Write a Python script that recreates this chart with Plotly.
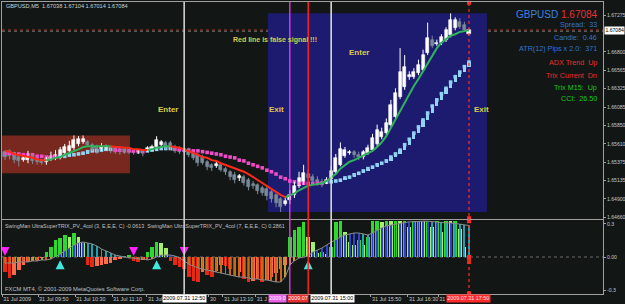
import plotly.graph_objects as go

# ---------------- data ----------------
bars = list(range(102))

opens = [1.6551,1.6552,1.6548,1.6544,1.6540,1.6540,1.6544,1.6541,1.6539,1.6538,
         1.6541,1.6543,1.6544,1.6549,1.6552,1.6556,1.6561,1.6563,1.6563,1.6560,
         1.6557,1.6554,1.6554,1.6556,1.6556,1.6553,1.6554,1.6553,1.6552,1.6551,
         1.6552,1.6552,1.6553,1.6557,1.6560,1.6562,1.6562,1.6557,1.6556,1.6553,
         1.6553,1.6552,1.6547,1.6544,1.6538,1.6534,1.6532,1.6534,1.6529,1.6525,
         1.6521,1.6517,1.6518,1.6514,1.6509,1.6508,1.6504,1.6503,1.6499,1.6495,
         1.6490,1.6483,1.6488,1.6495,1.6507,1.6512,1.6522,1.6518,1.6514,1.6512,
         1.6512,1.6516,1.6525,1.6534,1.6545,1.6549,1.6551,1.6547,1.6544,1.6549,
         1.6553,1.6561,1.6570,1.6575,1.6586,1.6596,1.6622,1.6635,1.6648,1.6648,
         1.6653,1.6657,1.6679,1.6696,1.6690,1.6692,1.6696,1.6702,1.6711,1.6719,
         1.6715,1.67038]
closes = [1.6544,1.6545,1.6540,1.6539,1.6543,1.6544,1.6539,1.6538,1.6536,1.6541,
          1.6544,1.6547,1.6553,1.6557,1.6558,1.6566,1.6567,1.6567,1.6560,1.6554,
          1.6551,1.6557,1.6557,1.6552,1.6551,1.6551,1.6551,1.6551,1.6549,1.6553,
          1.6549,1.6556,1.6557,1.6566,1.6563,1.6557,1.6554,1.6552,1.6551,1.6551,
          1.6547,1.6543,1.6536,1.6536,1.6531,1.6530,1.6535,1.6527,1.6525,1.6518,
          1.6514,1.6519,1.6510,1.6505,1.6507,1.6500,1.6497,1.6494,1.6490,1.6485,
          1.6479,1.6487,1.6495,1.6507,1.6517,1.6523,1.6517,1.6513,1.6512,1.6509,
          1.6514,1.6526,1.6543,1.6554,1.6553,1.6551,1.6547,1.6544,1.6551,1.6556,
          1.6569,1.6579,1.6576,1.6588,1.6611,1.6627,1.6654,1.6661,1.6650,1.6654,
          1.6663,1.6676,1.6698,1.6688,1.6692,1.6699,1.6708,1.6721,1.6721,1.6712,
          1.6708,1.67084]
highs = [1.6553,1.6554,1.6551,1.6547,1.6545,1.6552,1.6547,1.6544,1.6541,1.6544,
         1.6551,1.6553,1.6557,1.6561,1.6565,1.6572,1.6571,1.6572,1.6566,1.6562,
         1.6560,1.6562,1.6560,1.6558,1.6558,1.6556,1.6557,1.6556,1.6554,1.6554,
         1.6554,1.6558,1.6560,1.6571,1.6566,1.6565,1.6565,1.6560,1.6558,1.6556,
         1.6556,1.6553,1.6549,1.6547,1.6540,1.6536,1.6538,1.6536,1.6531,1.6527,
         1.6525,1.6522,1.6521,1.6517,1.6513,1.6510,1.6507,1.6507,1.6501,1.6497,
         1.6492,1.6491,1.6501,1.6512,1.6525,1.6534,1.6527,1.6522,1.6519,1.6516,
         1.6518,1.6532,1.6548,1.6563,1.6557,1.6553,1.6553,1.6551,1.6553,1.6560,
         1.6574,1.6586,1.6582,1.6594,1.6618,1.6633,1.6685,1.6676,1.6655,1.6659,
         1.6670,1.6683,1.6718,1.6701,1.6696,1.6703,1.6712,1.6730,1.6725,1.6724,
         1.6719,1.67104]
lows = [1.6540,1.6541,1.6536,1.6532,1.6538,1.6536,1.6535,1.6534,1.6534,1.6534,
        1.6539,1.6540,1.6541,1.6547,1.6549,1.6553,1.6558,1.6561,1.6557,1.6552,
        1.6548,1.6552,1.6553,1.6549,1.6548,1.6547,1.6548,1.6548,1.6547,1.6548,
        1.6545,1.6551,1.6552,1.6554,1.6558,1.6554,1.6553,1.6549,1.6548,1.6549,
        1.6544,1.6540,1.6532,1.6534,1.6527,1.6526,1.6530,1.6525,1.6521,1.6514,
        1.6510,1.6513,1.6507,1.6501,1.6503,1.6496,1.6494,1.6488,1.6485,1.6479,
        1.6473,1.6481,1.6483,1.6491,1.6504,1.6508,1.6513,1.6509,1.6507,1.6505,
        1.6509,1.6513,1.6522,1.6532,1.6543,1.6547,1.6543,1.6540,1.6541,1.6547,
        1.6551,1.6558,1.6567,1.6572,1.6583,1.6593,1.6619,1.6631,1.6644,1.6645,
        1.6650,1.6654,1.6676,1.6685,1.6688,1.6689,1.6693,1.6699,1.6708,1.6710,
        1.6706,1.67014]

fast_ma = [1.6552,1.6551,1.6548,1.6547,1.6545,1.6544,1.6543,1.6541,1.6540,1.6540,
           1.6541,1.6543,1.6544,1.6547,1.6549,1.6552,1.6554,1.6557,1.6558,1.6558,
           1.6558,1.6558,1.6558,1.6558,1.6557,1.6557,1.6556,1.6556,1.6554,1.6554,
           1.6553,1.6553,1.6554,1.6556,1.6557,1.6558,1.6558,1.6557,1.6556,1.6554,
           1.6552,1.6549,1.6547,1.6544,1.6543,1.6540,1.6539,1.6536,1.6534,1.6531,
           1.6529,1.6527,1.6525,1.6522,1.6518,1.6514,1.6510,1.6507,1.6503,1.6499,
           1.6495,1.6492,1.6494,1.6497,1.6501,1.6504,1.6507,1.6508,1.6509,1.6510,
           1.6513,1.6517,1.6522,1.6529,1.6534,1.6538,1.6540,1.6543,1.6545,1.6548,
           1.6552,1.6557,1.6563,1.6571,1.6582,1.6593,1.6605,1.6616,1.6626,1.6636,
           1.6645,1.6655,1.6666,1.6675,1.6685,1.6692,1.6697,1.6701,1.6703,1.6706,
           1.6707,1.6708]
slow_ma = [1.6549,1.6549,1.6548,1.6548,1.6547,1.6547,1.6547,1.6545,1.6545,1.6544,
           1.6544,1.6544,1.6545,1.6545,1.6547,1.6547,1.6548,1.6549,1.6551,1.6552,
           1.6552,1.6553,1.6554,1.6554,1.6553,1.6553,1.6552,1.6552,1.6552,1.6551,
           1.6551,1.6552,1.6553,1.6554,1.6555,1.6555,1.6555,1.6554,1.6554,1.6553,
           1.6553,1.6552,1.6552,1.6551,1.6550,1.6549,1.6548,1.6547,1.6545,1.6544,
           1.6543,1.6540,1.6539,1.6536,1.6534,1.6532,1.6530,1.6527,1.6525,1.6522,
           1.6518,1.6516,1.6513,1.6512,1.6510,1.6510,1.6510,1.6510,1.6510,1.6510,
           1.6512,1.6512,1.6513,1.6514,1.6517,1.6518,1.6521,1.6523,1.6526,1.6529,
           1.6531,1.6534,1.6536,1.6539,1.6544,1.6548,1.6553,1.6560,1.6567,1.6575,
           1.6583,1.6592,1.6601,1.6610,1.6618,1.6626,1.6633,1.6641,1.6648,1.6654,
           1.6661,1.6667]

trix_fast = [-0.136,-0.191,-0.164,-0.118,-0.073,-0.045,-0.036,-0.027,-0.009,0.045,
             0.091,0.155,0.173,0.200,0.182,0.218,0.182,0.127,-0.073,-0.091,
             -0.082,-0.073,-0.064,-0.055,-0.027,-0.018,0.009,0.018,-0.036,-0.045,
             -0.027,0.045,0.091,0.136,0.127,0.082,-0.036,-0.073,-0.091,-0.109,
             -0.182,-0.218,-0.227,-0.136,-0.164,-0.182,-0.127,-0.073,-0.082,-0.109,
             -0.164,-0.136,-0.200,-0.227,-0.218,-0.200,-0.227,-0.209,-0.182,-0.145,
             -0.109,-0.073,0.182,0.245,0.273,0.318,0.182,0.136,0.036,0.045,
             0.027,0.091,0.318,0.327,0.227,0.136,0.109,0.155,0.109,0.182,
             0.327,0.330,0.320,0.330,0.327,0.330,0.325,0.330,0.273,0.327,
             0.330,0.327,0.330,0.273,0.327,0.227,0.330,0.327,0.330,0.255,
             0.091,-0.0613]
trix_slow = [-0.055,-0.055,-0.055,-0.045,-0.045,-0.045,-0.036,-0.036,-0.027,-0.027,
             -0.018,0.002,0.027,0.055,0.082,0.109,0.127,0.136,0.127,0.118,
             0.100,0.073,0.055,0.036,0.018,0.009,0.002,-0.009,-0.009,-0.018,
             -0.018,-0.027,-0.018,0.002,0.018,0.018,0.018,0.009,-0.009,-0.036,
             -0.064,-0.082,-0.100,-0.109,-0.118,-0.127,-0.136,-0.145,-0.155,-0.164,
             -0.173,-0.182,-0.182,-0.191,-0.200,-0.200,-0.209,-0.209,-0.218,-0.227,
             -0.227,-0.182,-0.073,-0.036,-0.009,0.003,0.009,0.045,0.064,0.082,
             0.109,0.136,0.155,0.182,0.200,0.209,0.218,0.218,0.209,0.200,
             0.218,0.245,0.264,0.282,0.290,0.300,0.310,0.315,0.320,0.320,
             0.325,0.325,0.325,0.320,0.320,0.315,0.310,0.310,0.305,0.300,
             0.295,0.2861]

sell_arrow_bars = [0, 28, 39]
buy_arrow_bars = [12, 33, 66]

# time-axis labels (only the parts left visible by the object labels)
time_tick_pos = [-0.6, 7.2, 15.25, 23.3, 30.9, 44.4, 47.45, 54.6, 79.65, 87.7, 94.3]
time_tick_text = ["31 Jul 2009", "31 Jul 09:50", "31 Jul 10:30", "31 Jul 11:10", "31 Jul",
                  "30", "31 Jul 13:10", "31 J", "31 Jul 15:50", "31 Jul 16:30", "31"]
price_ticks = [1.67275, 1.66800, 1.66565, 1.66325, 1.66085, 1.65850, 1.65610,
               1.65375, 1.65135, 1.64900, 1.64660]
trix_ticks = [0.3, 0.0, -0.3]
trix_tick_text = ["0.3", "0.00", "-0.3"]

current_price = 1.67084
header_text = "GBPUSD,M5  1.67038 1.67104 1.67014 1.67084"

# vertical line objects: (bar, colour, dash, width)
vlines = [(39, "#d0d0d0", "solid", 1.6), (62, "#ff40ff", "solid", 1.2),
          (66, "#ff2020", "solid", 1.5), (71, "#d8d8d8", "solid", 1.6),
          (101, "#ff2a2a", "dot", 1.2)]
# their time-scale labels: (text, centre bar, bg, fg)
vline_labels = [("2009.0", 59.35, "#e860e8", "#ffffff"),
                ("2009.07", 63.75, "#e83030", "#ffffff"),
                ("2009.07.31 12:50", 39.0, "#ffffff", "#000000"),
                ("2009.07.31 15:00", 71.3, "#ffffff", "#000000"),
                ("2009.07.31 17:50", 101.0, "#ff2a2a", "#ffe0e0")]

# ---------------- style ----------------
BG = "#121615"
BORDER = "#a0a0a0"
AX_TXT = "#c8c8c8"
FONT = "Liberation Sans"
TICK_SIZE = 5.1

X_RANGE = [-0.653, 130.17]
Y_RANGE = [1.64638, 1.67447]
T_RANGE = [-0.336, 0.336]

fig = go.Figure()

def step_colors(vals, up, down):
    cols = []
    cur = down
    for i in range(1, len(vals)):
        if vals[i] > vals[i - 1]:
            cur = up
        elif vals[i] < vals[i - 1]:
            cur = down
        cols.append(cur)
    return cols

# slow MA (pink when falling, light blue when rising)
PINK = "#f04cc8"
LBLUE = "#92d2f2"
slow_cols = step_colors(slow_ma, LBLUE, PINK)
slow_pt_cols = [slow_cols[0]] + slow_cols
rise_idx = [i for i in range(1, len(bars)) if slow_ma[i] > slow_ma[i - 1]]
fig.add_trace(go.Bar(x=[bars[i] for i in rise_idx],
                     y=[slow_ma[i] - slow_ma[i - 1] for i in rise_idx],
                     base=[slow_ma[i - 1] for i in rise_idx], width=0.7,
                     marker=dict(color=LBLUE, line=dict(width=0)),
                     xaxis="x", yaxis="y", hoverinfo="skip"))
fig.add_trace(go.Scatter(x=bars, y=slow_ma, mode="markers",
                         marker=dict(symbol="square", size=3.6, color=slow_pt_cols,
                                     line=dict(width=0)),
                         xaxis="x", yaxis="y", hoverinfo="skip"))

# candles: wicks + bodies
BULL = "#ffffff"
BEAR = "#7b8a98"
for is_bull, col in ((True, BULL), (False, BEAR)):
    wx, wy = [], []
    for i in bars:
        if (closes[i] >= opens[i]) == is_bull:
            wx += [bars[i], bars[i], None]
            wy += [lows[i], highs[i], None]
    fig.add_trace(go.Scatter(x=wx, y=wy, mode="lines", line=dict(color=col, width=1),
                             xaxis="x", yaxis="y", hoverinfo="skip"))
body_cols = [BULL if c >= o else BEAR for o, c in zip(opens, closes)]
fig.add_trace(go.Bar(x=bars, y=[abs(c - o) for o, c in zip(opens, closes)],
                     base=[min(o, c) for o, c in zip(opens, closes)], width=0.66,
                     marker=dict(color=body_cols, line=dict(color=body_cols, width=0.6)),
                     xaxis="x", yaxis="y", hoverinfo="skip"))

# fast MA: red falling / green rising
fast_cols = step_colors(fast_ma, "#2fb45c", "#ff2a18")
start = 0
for i in range(1, len(fast_cols) + 1):
    if i == len(fast_cols) or fast_cols[i] != fast_cols[start]:
        fig.add_trace(go.Scatter(x=bars[start:i + 1], y=fast_ma[start:i + 1], mode="lines",
                                 line=dict(color=fast_cols[start], width=2),
                                 xaxis="x", yaxis="y", hoverinfo="skip"))
        start = i

# ---------------- TRIX subplot ----------------
def trix_colors(vals, pos_up, pos_dn, neg_dn, neg_up):
    out = []
    for i, v in enumerate(vals):
        prev = vals[i - 1] if i > 0 else v
        if v >= 0:
            out.append(pos_up if v >= prev else pos_dn)
        else:
            out.append(neg_dn if v <= prev else neg_up)
    return out

fast_bar_cols = trix_colors(trix_fast, "#2ed82e", "#a6ee70", "#e42a12", "#ff6a48")
slow_bar_cols = trix_colors(trix_slow, "#2a44d0", "#20a0b0", "#c86818", "#c89830")

fig.add_trace(go.Bar(x=bars, y=trix_fast, width=0.78,
                     marker=dict(color=fast_bar_cols, line=dict(width=0)),
                     xaxis="x2", yaxis="y2", hoverinfo="skip"))
fig.add_trace(go.Bar(x=bars, y=trix_slow, width=0.2,
                     marker=dict(color=slow_bar_cols, line=dict(width=0)),
                     xaxis="x2", yaxis="y2", hoverinfo="skip"))
fig.add_trace(go.Scatter(x=bars, y=trix_slow, mode="lines",
                         line=dict(color="#8c8c8c", width=1),
                         xaxis="x2", yaxis="y2", hoverinfo="skip"))
fig.add_trace(go.Scatter(x=sell_arrow_bars, y=[0.01] * len(sell_arrow_bars), mode="markers",
                         marker=dict(symbol="arrow-down", size=9, color="#ff22ff"),
                         xaxis="x2", yaxis="y2", hoverinfo="skip"))
fig.add_trace(go.Scatter(x=buy_arrow_bars, y=[-0.03] * len(buy_arrow_bars), mode="markers",
                         marker=dict(symbol="arrow-up", size=9, color="#40e8e0"),
                         xaxis="x2", yaxis="y2", hoverinfo="skip"))

# markers on the current-bar line
fig.add_trace(go.Scatter(x=[101, 101], y=[Y_RANGE[1] - 0.0001, Y_RANGE[0] + 0.0001], mode="markers",
                         marker=dict(symbol="square", size=4, color="#ff2a2a"),
                         cliponaxis=False, xaxis="x", yaxis="y", hoverinfo="skip"))
fig.add_trace(go.Scatter(x=[101, 101, 101], y=[0.325, 0.0, -0.33], mode="markers",
                         marker=dict(symbol="square", size=4, color="#ff2a2a"),
                         cliponaxis=False, xaxis="x2", yaxis="y2", hoverinfo="skip"))

# ---------------- shapes ----------------
shapes = []
shapes.append(dict(type="rect", xref="x", yref="y", x0=-0.65, x1=27.2, y0=1.6523, y1=1.6572,
                   fillcolor="#78281f", line=dict(width=0), layer="below"))
shapes.append(dict(type="rect", xref="x", yref="y", x0=57.25, x1=104.9, y0=1.6473, y1=1.6730,
                   fillcolor="#1d1b70", line=dict(width=0), layer="below"))
shapes.append(dict(type="line", xref="paper", yref="y", x0=0, x1=1, y0=current_price, y1=current_price,
                   line=dict(color="#b03a26", width=1, dash="dot"), layer="below"))
shapes.append(dict(type="line", xref="paper", yref="y", x0=0, x1=1, y0=1.67068, y1=1.67068,
                   line=dict(color="#6a7070", width=1, dash="dot"), layer="below"))
shapes.append(dict(type="line", xref="paper", yref="y2", x0=0, x1=1, y0=0, y1=0,
                   line=dict(color="#6a6a6a", width=1, dash="dot"), layer="below"))
for b, col, dash, w in vlines:
    shapes.append(dict(type="line", xref="x", yref="paper", x0=b, x1=b, y0=0, y1=1,
                       line=dict(color=col, width=w, dash=dash), layer="above"))

# ---------------- annotations ----------------
def px_y(py):
    return (294 - py) / 292.0

def px_x(pxx):
    return (pxx - 2) / 601.0

ann = []
ann.append(dict(text=header_text, xref="paper", yref="paper", x=px_x(4), y=px_y(6),
                xanchor="left", yanchor="middle", showarrow=False,
                font=dict(family=FONT, size=5.6, color="#c8d4d4")))
ann.append(dict(text="SwingMan UltraSuperTRIX_PV_4col (3, E,E,E, C) -0.0613  "
                     "SwingMan UltraSuperTRIX_PV_4col (7, E,E,E, C) 0.2861",
                xref="paper", yref="paper", x=px_x(3), y=px_y(226),
                xanchor="left", yanchor="middle", showarrow=False,
                font=dict(family=FONT, size=5.4, color="#c0c0c0")))
ann.append(dict(text="FXCM MT4, \u00a9 2001-2009 MetaQuotes Software Corp.",
                xref="paper", yref="paper", x=px_x(3), y=px_y(289),
                xanchor="left", yanchor="middle", showarrow=False,
                font=dict(family=FONT, size=5.8, color="#c0c0c0")))

BLUE = "#3474d8"
RED = "#e83030"
GREEN = "#1ec81e"
ann.append(dict(text="<span style='color:#3c80e4'>GBPUSD</span> <span style='color:#e83030'>1.67084</span>",
                xref="paper", yref="paper", x=px_x(600), y=px_y(15),
                xanchor="right", yanchor="middle", showarrow=False,
                font=dict(family=FONT, size=10, color=BLUE)))
panel = [("Spread:  33", BLUE, 25), ("Candle:  0.46", BLUE, 37),
         ("ATR(12) Pips x 2.0:  371", BLUE, 49), ("ADX Trend  Up", RED, 63),
         ("Trix Current  Dn", RED, 75), ("Trix M15:  Up", GREEN, 87),
         ("CCI:  26.50", GREEN, 98)]
for t, c, py in panel:
    ann.append(dict(text=t, xref="paper", yref="paper", x=px_x(599), y=px_y(py),
                    xanchor="right", yanchor="middle", showarrow=False,
                    font=dict(family=FONT, size=7.2, color=c)))

GOLD = "#dccb4c"
labels = [("Enter", 35.5, 1.6605, 8), ("Exit", 59.0, 1.6605, 8),
          ("Red line is false signal !!!", 58.8, 1.6696, 7), ("Enter", 77.0, 1.6679, 8),
          ("Exit", 103.8, 1.6605, 8)]
for t, xb, yp, fs in labels:
    ann.append(dict(text="<b>" + t + "</b>", xref="x", yref="y", x=xb, y=yp,
                    xanchor="center", yanchor="middle", showarrow=False,
                    font=dict(family=FONT, size=fs, color=GOLD)))

ann.append(dict(text="1.67084", xref="paper", yref="y", x=1, y=current_price,
                xanchor="left", yanchor="middle", xshift=1, showarrow=False,
                bgcolor="#ffffff", borderpad=0.4,
                font=dict(family=FONT, size=TICK_SIZE, color="#000000")))

for lab, xb, bg, fg in vline_labels:
    ann.append(dict(text=lab, xref="x", yref="paper", x=xb, y=px_y(298.5),
                    xanchor="center", yanchor="middle", showarrow=False,
                    bgcolor=bg, borderpad=0.3,
                    font=dict(family=FONT, size=5.4, color=fg)))

fig.update_layout(
    width=625, height=304,
    margin=dict(l=2, r=22, t=2, b=10, autoexpand=False),
    paper_bgcolor=BG, plot_bgcolor=BG,
    showlegend=False, barmode="overlay", bargap=0,
    font=dict(family=FONT, size=6, color=AX_TXT),
    shapes=shapes, annotations=ann,
    xaxis=dict(domain=[0, 1], anchor="y", range=X_RANGE, showticklabels=False, ticks="",
               showgrid=False, zeroline=False, showline=True, mirror=True,
               linecolor=BORDER, linewidth=1, rangeslider=dict(visible=False)),
    yaxis=dict(domain=[0.2568, 1], anchor="x", side="right", range=Y_RANGE,
               tickvals=price_ticks, ticktext=[f"{v:.5f}" for v in price_ticks],
               ticks="outside", ticklen=2, tickcolor=BORDER, automargin=False,
               showgrid=False, zeroline=False, showline=True, mirror=True,
               linecolor=BORDER, linewidth=1,
               tickfont=dict(family=FONT, size=TICK_SIZE, color=AX_TXT)),
    xaxis2=dict(domain=[0, 1], anchor="y2", matches="x", range=X_RANGE,
                tickvals=time_tick_pos, ticktext=time_tick_text,
                ticks="outside", ticklen=2, tickcolor=BORDER, tickangle=0,
                ticklabelposition="outside right", automargin=False,
                showgrid=False, zeroline=False, showline=True, mirror=True,
                linecolor=BORDER, linewidth=1,
                tickfont=dict(family=FONT, size=5.4, color=AX_TXT)),
    yaxis2=dict(domain=[0, 0.2534], anchor="x2", side="right", range=T_RANGE,
                tickvals=trix_ticks, ticktext=trix_tick_text,
                ticks="outside", ticklen=2, tickcolor=BORDER, automargin=False,
                showgrid=False, zeroline=False, showline=True, mirror=True,
                linecolor=BORDER, linewidth=1,
                tickfont=dict(family=FONT, size=TICK_SIZE, color=AX_TXT)),
)

fig.write_html("out.html")
